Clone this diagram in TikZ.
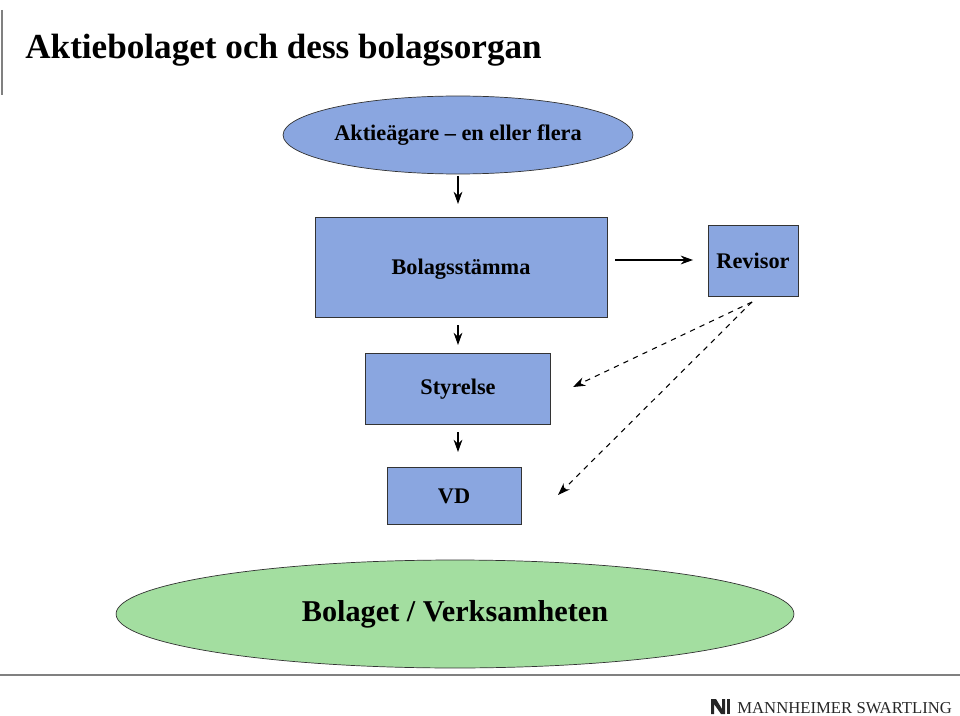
\documentclass[tikz,border=0pt]{standalone}
\usepackage{fontspec}
\setmainfont{Liberation Serif}
\usetikzlibrary{shapes.geometric,arrows.meta}
\begin{document}
\begin{tikzpicture}[x=0.02cm,y=-0.02cm,
  box/.style={draw=black!80,fill=blue1,inner sep=0pt,anchor=north west},
  lbl/.style={font=\bfseries\fontsize{12.7}{15}\selectfont},
  arr/.style={-{Stealth[length=7pt,width=5pt]},line width=0.6pt},
  darr/.style={arr,dashed}]
\definecolor{blue1}{HTML}{8AA6E0}
\definecolor{green1}{HTML}{A3DEA0}
\useasboundingbox (0,0) rectangle (960,716);
\draw[gray,line width=1pt] (2,10) -- (2,95);
\node[anchor=base west,font=\bfseries\fontsize{20}{24}\selectfont,inner sep=0pt] (title) at (25,59) {Aktiebolaget och dess bolagsorgan};
\node[ellipse,draw=black!80,fill=blue1,minimum width=6.84cm,minimum height=1.56cm,inner sep=0pt,lbl] (agare) at (458,135) {Aktieägare -- en eller flera};
\node[box,minimum width=5.84cm,minimum height=2cm] (stamma) at (315,217) {};
\node[lbl] at (461,269) {Bolagsstämma};
\node[box,minimum width=1.8cm,minimum height=1.42cm] (rev) at (708,225) {};
\node[lbl] at (753,261) {Revisor};
\node[box,minimum width=3.7cm,minimum height=1.42cm] (styr) at (365,353) {};
\node[lbl] at (458,389) {Styrelse};
\node[box,minimum width=2.68cm,minimum height=1.14cm] (vd) at (387,467) {};
\node[lbl] at (454,496) {VD};
\node[ellipse,draw=black!80,fill=green1,minimum width=13.56cm,minimum height=2.16cm,inner sep=0pt] (bol) at (455,614) {};
\node[font=\bfseries\fontsize{17.2}{20}\selectfont] at (455,614) {Bolaget / Verksamheten};
\coordinate (a1) at (458,176); \coordinate (a2) at (458,204);
\coordinate (b1) at (615,260); \coordinate (b2) at (693,260);
\coordinate (c1) at (458,325); \coordinate (c2) at (458,345);
\coordinate (d1) at (458,432); \coordinate (d2) at (458,452);
\coordinate (r1) at (752,302); \coordinate (s1) at (573,387); \coordinate (v1) at (558,495);
\draw[arr] (a1) -- (a2);
\draw[arr] (b1) -- (b2);
\draw[arr] (c1) -- (c2);
\draw[arr] (d1) -- (d2);
\draw[darr] (r1) -- (s1);
\draw[darr] (r1) -- (v1);
\draw[gray,line width=1pt] (0,675) -- (960,675);
\fill[black!85] (711,699) -- (716,699) -- (722,709) -- (722,699) -- (725,699) -- (725,714) -- (721,714) -- (714,704) -- (714,714) -- (711,714) -- cycle;
\fill[black!85] (727,699) rectangle (730,714);
\node[anchor=base west,inner sep=0pt,font=\fontsize{9.5}{12}\selectfont,text=black!85] (logo) at (737,713) {MANNHEIMER SWARTLING};
\end{tikzpicture}
\end{document}
